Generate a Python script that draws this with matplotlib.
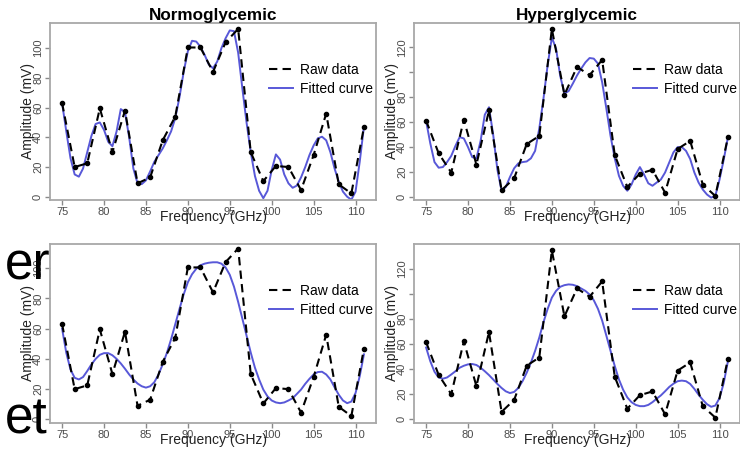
import matplotlib
matplotlib.use("Agg")
import matplotlib.pyplot as plt

plt.rcParams['font.family'] = ['Liberation Sans', 'DejaVu Sans']

# raw measurement points (GHz, mV)
freq_raw = [75, 76.5, 78, 79.5, 81, 82.5, 84, 85.5, 87, 88.5, 90, 91.5, 93,
            94.5, 96, 97.5, 99, 100.5, 102, 103.5, 105, 106.5, 108, 109.5, 111]
normo_raw = [63, 20, 22.5, 59.5, 30, 58, 9, 13, 38, 54, 100.5, 100.5, 84,
             104, 113, 30, 10.5, 20.7, 20, 4.5, 28, 56, 8.3, 2.2, 46.7]
hyper_raw = [61.3, 35, 19.6, 62, 26, 69.4, 5.4, 15, 42.5, 49, 134.8, 82, 104.4,
             97.7, 110, 33.6, 8, 18.8, 21.8, 3.5, 38.5, 45, 10, 0.8, 48]

# fitted curves every 0.5 GHz
freq_fit = [75, 75.5, 76, 76.5, 77, 77.5, 78, 78.5, 79, 79.5, 80, 80.5, 81, 81.5,
            82, 82.5, 83, 83.5, 84, 84.5, 85, 85.5, 86, 86.5, 87, 87.5, 88, 88.5,
            89, 89.5, 90, 90.5, 91, 91.5, 92, 92.5, 93, 93.5, 94, 94.5, 95, 95.5,
            96, 96.5, 97, 97.5, 98, 98.5, 99, 99.5, 100, 100.5, 101, 101.5, 102,
            102.5, 103, 103.5, 104, 104.5, 105, 105.5, 106, 106.5, 107, 107.5,
            108, 108.5, 109, 109.5, 110, 110.5, 111]

normo_fit_top = [63, 44, 26, 15, 13.5, 19, 30, 41, 49, 50, 45, 37, 34, 44,
                 59, 57, 40, 19, 9, 8.5, 11, 17, 23.5, 28, 32.5, 38, 44, 53,
                 67, 84, 98, 105, 104.5, 101, 95.5, 89, 86.5, 91, 100, 106.7, 112, 111.5,
                 97, 73, 50, 30, 14, 4, -1, 4, 18, 28.5, 25, 15, 9,
                 6, 7.5, 13, 20, 28, 34.5, 39.3, 40.4, 38, 30, 19,
                 10, 3.4, 0, -2, 3.4, 23.6, 47]
hyper_fit_top = [61, 43, 28, 23.5, 24, 28, 33, 41, 48, 47, 40, 32, 31, 45,
                 66, 72, 50, 22, 5, 8, 16, 23, 27, 28, 28.5, 31, 37, 55,
                 79, 106, 128, 119, 97, 83, 85, 91, 97.5, 103, 108, 111.5, 111, 107,
                 92, 71, 49, 31, 17, 9, 5, 10, 18, 24, 18, 11, 9,
                 11.6, 14, 19.6, 27.7, 35.8, 40, 40, 37, 30.4, 19.6, 11.6,
                 6, 2, -0.5, 1, 14, 30, 48]
normo_fit_bot = [60, 44, 33, 27.5, 26.4, 28, 32, 36.4, 40, 42.7, 43.8, 43.8, 42.4, 40,
                 37, 33.5, 29.7, 26.4, 23.7, 21.9, 21, 21.9, 24.6, 29.7, 36.4, 44, 53, 63,
                 73, 82.6, 90.7, 96, 99.6, 101.9, 103, 103.6, 103.9, 103.9, 103, 100.5, 95.6, 87.8,
                 77.7, 66.6, 55.4, 44.2, 34.2, 26.4, 19.7, 15.2, 12.5, 11.2, 10.7, 11.2, 12.5,
                 14, 16.8, 19.7, 23.5, 26.8, 29.7, 31.3, 31.5, 29.7, 26.4, 21.2,
                 16.3, 12.5, 10.7, 11.8, 17.4, 28.6, 43]
hyper_fit_bot = [57, 46, 37.6, 33, 32, 33, 35.4, 38, 40.8, 42.4, 43.5, 43.8, 43, 40.8,
                 38, 34.9, 31.4, 27.8, 24.6, 21.9, 20.5, 21.4, 24.6, 30, 36.8, 44.9, 54.3, 65,
                 77.3, 88, 97, 102.4, 105.7, 107, 107.6, 107.3, 106.2, 104.3, 102.4, 99.5, 94.9, 88,
                 78.6, 66.5, 54.3, 42.2, 31.4, 23.2, 17, 13.2, 11, 10, 10, 11, 13.2,
                 16, 18.6, 21.9, 25.4, 28, 30, 30.5, 30, 27.8, 23.8, 19.2,
                 15.1, 11.6, 9.5, 10.5, 16.5, 28.6, 46]

titles = ["Normoglycemic", "Hyperglycemic", None, None]
normo_ticks = [0, 20, 40, 60, 80, 100]
normo_ticklabels = ["0", "20", "40", "60", "80", "100"]
hyper_ticks = [0, 20, 40, 60, 80, 100, 120]
hyper_ticklabels = ["0", "20", "40", "60", "80", "", "120"]
x_ticks = [75, 80, 85, 90, 95, 100, 105, 110]

fit_color = '#5858d8'
frame_color = '#a8a8a8'

fig = plt.figure(figsize=(7.4, 4.49), dpi=100)

# [left, bottom, width, height] in figure fractions
boxes = [[0.0676, 0.5546, 0.4405, 0.3942],
         [0.5595, 0.5546, 0.4405, 0.3942],
         [0.0676, 0.0579, 0.4405, 0.3987],
         [0.5595, 0.0579, 0.4405, 0.3987]]
raws = [normo_raw, hyper_raw, normo_raw, hyper_raw]
fits = [normo_fit_top, hyper_fit_top, normo_fit_bot, hyper_fit_bot]
ylims = [(-2.2, 117), (-2.4, 139.6), (-2.4, 116), (-3.5, 140)]

for i in range(4):
    ax = fig.add_axes(boxes[i])
    ax.plot(freq_fit, fits[i], color=fit_color, lw=1.4, label='Fitted curve', zorder=2)
    ax.plot(freq_raw, raws[i], color='black', lw=1.5, dashes=(4, 2.5),
            marker='o', ms=3, label='Raw data', zorder=3)
    ax.set_xlim(73.56, 112.44)
    ax.set_ylim(*ylims[i])
    ax.set_xticks(x_ticks)
    if i % 2 == 0:
        ax.set_yticks(normo_ticks)
        ax.set_yticklabels(normo_ticklabels)
    else:
        ax.set_yticks(hyper_ticks)
        ax.set_yticklabels(hyper_ticklabels)
    ax.tick_params(axis='both', colors='#8a8a8a', labelcolor='#4a4a4a',
                   labelsize=8, length=3.5, width=1, pad=1.5)
    ax.tick_params(axis='y', labelrotation=90)
    for lab in ax.get_yticklabels():
        lab.set_va('center')
    for sp in ax.spines.values():
        sp.set_color(frame_color)
        sp.set_linewidth(1.3)
    ax.set_xlabel('Frequency (GHz)', fontsize=10, color='#222222')
    ax.xaxis.set_label_coords(0.5, -0.058)
    ax.set_ylabel('Amplitude (mV)', fontsize=10, color='#222222')
    ax.yaxis.set_label_coords(-0.045, 0.5)
    if titles[i]:
        ax.set_title(titles[i], fontsize=12.3, fontweight='bold', pad=2)
    handles, labels = ax.get_legend_handles_labels()
    ax.legend(handles[::-1], labels[::-1], loc='upper left', bbox_to_anchor=(0.672, 0.775),
              frameon=False, fontsize=10, handlelength=1.75, handletextpad=0.45,
              labelspacing=0.35, borderpad=0, borderaxespad=0)
    for h in ax.get_legend().get_lines():
        h.set_marker('')

# fragments of slide text left of the charts
fig.text(0.0676, 1 - 279 / 449, 'er', fontsize=37, ha='right', va='baseline')
fig.text(0.0649, 1 - 434 / 449, 'et', fontsize=37, ha='right', va='baseline')

fig.savefig('out.png', dpi=100)
